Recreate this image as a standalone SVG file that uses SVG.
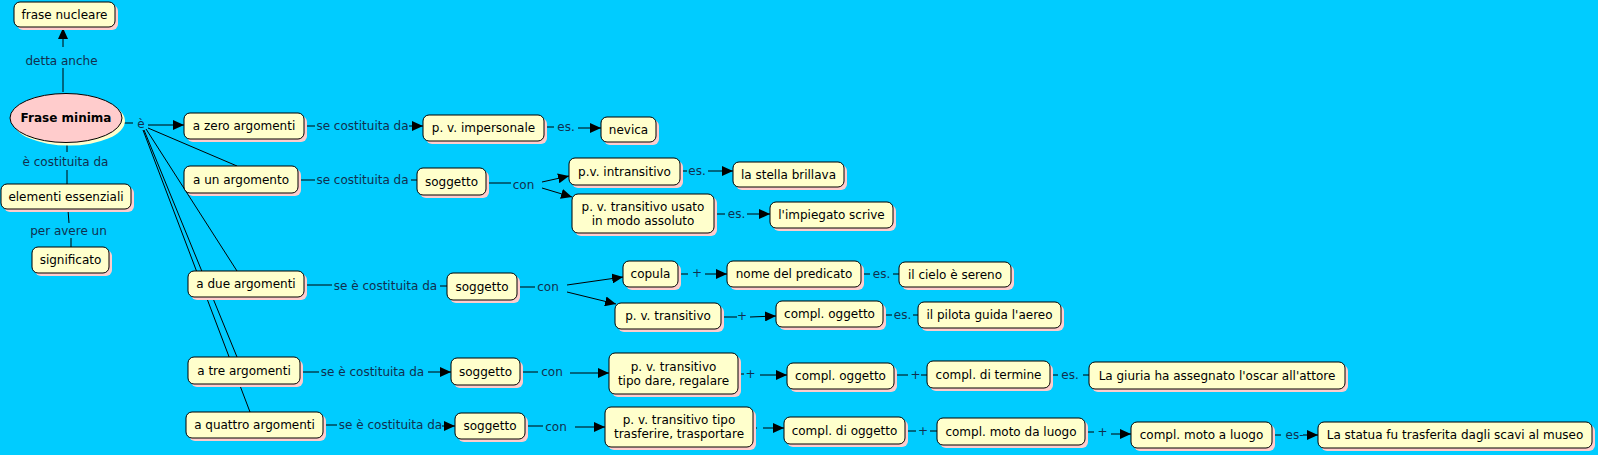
<svg xmlns="http://www.w3.org/2000/svg" width="1598" height="455" viewBox="0 0 1598 455">
<defs>
<marker id="ah" markerUnits="userSpaceOnUse" markerWidth="11" markerHeight="10" refX="11" refY="5" orient="auto"><path d="M0,0 L11,5 L0,10 z" fill="#000"/></marker>
</defs>
<style>
.sh{fill:#ffcccc}
.bx{fill:#ffffcc;stroke:#000;stroke-width:1}
text{font-family:"DejaVu Sans",Verdana,sans-serif;font-size:12px;text-anchor:middle}
.nt{fill:#000}
.lt{fill:#10304f}
.c line{stroke:#000;stroke-width:1;fill:none}
.a{marker-end:url(#ah)}
</style>
<rect width="1598" height="455" fill="#00ccff"/>

<g id="connectors" class="c">
<line x1="63" y1="92" x2="63" y2="68"/>
<line class="a" x1="63" y1="47" x2="63" y2="28"/>
<line x1="67" y1="143" x2="67" y2="152"/>
<line x1="67" y1="170" x2="67" y2="184"/>
<line x1="68" y1="210" x2="69" y2="223"/>
<line x1="71" y1="238" x2="71" y2="247"/>
<line x1="122" y1="123" x2="133" y2="123"/>
<line class="a" x1="148" y1="125" x2="184" y2="125"/>
<line x1="148" y1="128" x2="237" y2="166"/>
<line x1="146" y1="129" x2="237" y2="271"/>
<line x1="144" y1="130" x2="237" y2="357"/>
<line x1="143" y1="130" x2="250" y2="412"/>
<line x1="304" y1="126" x2="315" y2="126"/>
<line class="a" x1="409" y1="126" x2="423" y2="126"/>
<line x1="544" y1="127" x2="554" y2="127"/>
<line class="a" x1="578" y1="128" x2="601" y2="128"/>
<line x1="298" y1="180" x2="315" y2="180"/>
<line x1="411" y1="180" x2="417" y2="180"/>
<line x1="486" y1="183" x2="511" y2="183"/>
<line class="a" x1="542" y1="182" x2="569" y2="176"/>
<line class="a" x1="542" y1="188" x2="572" y2="197"/>
<line x1="680" y1="171" x2="687" y2="171"/>
<line class="a" x1="708" y1="171" x2="733" y2="171"/>
<line x1="714" y1="214" x2="725" y2="214"/>
<line class="a" x1="747" y1="214" x2="770" y2="214"/>
<line x1="304" y1="285" x2="332" y2="285"/>
<line x1="440" y1="286" x2="447" y2="286"/>
<line x1="517" y1="287" x2="535" y2="287"/>
<line class="a" x1="567" y1="285" x2="623" y2="277"/>
<line class="a" x1="567" y1="292" x2="616" y2="304"/>
<line x1="678" y1="274" x2="688" y2="274"/>
<line class="a" x1="705" y1="274" x2="727" y2="274"/>
<line x1="861" y1="274" x2="870" y2="274"/>
<line x1="893" y1="274" x2="899" y2="274"/>
<line x1="721" y1="317" x2="737" y2="317"/>
<line class="a" x1="750" y1="317" x2="776" y2="316"/>
<line x1="883" y1="315" x2="892" y2="315"/>
<line x1="913" y1="315" x2="918" y2="315"/>
<line x1="300" y1="372" x2="319" y2="372"/>
<line class="a" x1="428" y1="372" x2="451" y2="372"/>
<line x1="520" y1="372" x2="538" y2="372"/>
<line class="a" x1="570" y1="373" x2="609" y2="373"/>
<line x1="738" y1="374" x2="744" y2="374"/>
<line class="a" x1="760" y1="375" x2="787" y2="375"/>
<line x1="894" y1="375" x2="908" y2="375"/>
<line x1="921" y1="375" x2="927" y2="375"/>
<line x1="1050" y1="375" x2="1058" y2="375"/>
<line x1="1083" y1="375" x2="1089" y2="375"/>
<line x1="323" y1="425" x2="337" y2="425"/>
<line class="a" x1="442" y1="426" x2="455" y2="426"/>
<line x1="525" y1="426" x2="543" y2="426"/>
<line class="a" x1="575" y1="427" x2="605" y2="427"/>
<line x1="753" y1="428" x2="757" y2="428"/>
<line class="a" x1="763" y1="428" x2="784" y2="428"/>
<line x1="905" y1="431" x2="916" y2="431"/>
<line x1="930" y1="431" x2="937" y2="431"/>
<line x1="1085" y1="432" x2="1094" y2="432"/>
<line class="a" x1="1111" y1="434" x2="1131" y2="434"/>
<line x1="1272" y1="435" x2="1281" y2="435"/>
<line class="a" x1="1303" y1="435" x2="1318" y2="435"/>
</g>

<g id="labels" class="lt">
<text x="61.5" y="65">detta anche</text>
<text x="65.5" y="166">è costituita da</text>
<text x="68.5" y="235">per avere un</text>
<text x="141" y="128">è</text>
<text x="362.5" y="130">se costituita da</text>
<text x="566" y="131">es.</text>
<text x="362.5" y="184">se costituita da</text>
<text x="523.5" y="189">con</text>
<text x="697" y="175">es.</text>
<text x="736.5" y="218">es.</text>
<text x="385.5" y="290">se è costituita da</text>
<text x="548" y="291">con</text>
<text x="697" y="277">+</text>
<text x="881.5" y="278">es.</text>
<text x="742" y="320">+</text>
<text x="902.5" y="319">es.</text>
<text x="372.5" y="376">se è costituita da</text>
<text x="552" y="376">con</text>
<text x="750.5" y="378">+</text>
<text x="915.5" y="379">+</text>
<text x="1070" y="379">es.</text>
<text x="390.5" y="429">se è costituita da</text>
<text x="556" y="431">con</text>
<text x="923" y="435">+</text>
<text x="1102.5" y="436">+</text>
<text x="1294.5" y="439">es-</text>
</g>

<g id="n-frase-nucleare"><rect class="sh" x="17" y="5" width="101" height="25" rx="6"/><rect class="bx" x="14" y="2" width="101" height="25" rx="6"/><text class="nt" x="64.5" y="18.5">frase nucleare</text></g>
<g id="n-frase-minima"><ellipse cx="69" cy="121" rx="56" ry="24.5" fill="#ffffcc"/><ellipse cx="66" cy="118" rx="56" ry="24.5" fill="#ffcccc" stroke="#000"/><text class="nt" x="66" y="122" font-weight="bold">Frase minima</text></g>
<g id="n-elementi"><rect class="sh" x="4" y="187" width="130" height="25" rx="6"/><rect class="bx" x="1" y="184" width="130" height="25" rx="6"/><text class="nt" x="66" y="200.5">elementi essenziali</text></g>
<g id="n-significato"><rect class="sh" x="35" y="250" width="77" height="26" rx="6"/><rect class="bx" x="32" y="247" width="77" height="26" rx="6"/><text class="nt" x="70.5" y="264">significato</text></g>

<g id="n-zero"><rect class="sh" x="187" y="116" width="120" height="26" rx="6"/><rect class="bx" x="184" y="113" width="120" height="26" rx="6"/><text class="nt" x="244" y="130">a zero argomenti</text></g>
<g id="n-uno"><rect class="sh" x="187" y="169" width="114" height="27" rx="6"/><rect class="bx" x="184" y="166" width="114" height="27" rx="6"/><text class="nt" x="241" y="183.5">a un argomento</text></g>
<g id="n-due"><rect class="sh" x="191" y="274" width="116" height="26" rx="6"/><rect class="bx" x="188" y="271" width="116" height="26" rx="6"/><text class="nt" x="246" y="288">a due argomenti</text></g>
<g id="n-tre"><rect class="sh" x="191" y="360" width="112" height="27" rx="6"/><rect class="bx" x="188" y="357" width="112" height="27" rx="6"/><text class="nt" x="244" y="374.5">a tre argomenti</text></g>
<g id="n-quattro"><rect class="sh" x="189" y="415" width="137" height="26" rx="6"/><rect class="bx" x="186" y="412" width="137" height="26" rx="6"/><text class="nt" x="254.5" y="429">a quattro argomenti</text></g>

<g id="n-impersonale"><rect class="sh" x="426" y="118" width="121" height="26" rx="6"/><rect class="bx" x="423" y="115" width="121" height="26" rx="6"/><text class="nt" x="483.5" y="132">p. v. impersonale</text></g>
<g id="n-nevica"><rect class="sh" x="604" y="120" width="55" height="25" rx="6"/><rect class="bx" x="601" y="117" width="55" height="25" rx="6"/><text class="nt" x="628.5" y="133.5">nevica</text></g>

<g id="n-soggetto1"><rect class="sh" x="420" y="171" width="69" height="27" rx="6"/><rect class="bx" x="417" y="168" width="69" height="27" rx="6"/><text class="nt" x="451.5" y="185.5">soggetto</text></g>
<g id="n-intransitivo"><rect class="sh" x="572" y="161" width="111" height="27" rx="6"/><rect class="bx" x="569" y="158" width="111" height="27" rx="6"/><text class="nt" x="624.5" y="175.5">p.v. intransitivo</text></g>
<g id="n-stella"><rect class="sh" x="736" y="165" width="111" height="25" rx="6"/><rect class="bx" x="733" y="162" width="111" height="25" rx="6"/><text class="nt" x="788.5" y="178.5">la stella brillava</text></g>
<g id="n-assoluto"><rect class="sh" x="575" y="197" width="142" height="39" rx="6"/><rect class="bx" x="572" y="194" width="142" height="39" rx="6"/><text class="nt" x="643" y="210.5">p. v. transitivo usato</text><text class="nt" x="643" y="224.5">in modo assoluto</text></g>
<g id="n-impiegato"><rect class="sh" x="773" y="205" width="123" height="26" rx="6"/><rect class="bx" x="770" y="202" width="123" height="26" rx="6"/><text class="nt" x="831.5" y="219">l'impiegato scrive</text></g>

<g id="n-soggetto2"><rect class="sh" x="450" y="276" width="70" height="27" rx="6"/><rect class="bx" x="447" y="273" width="70" height="27" rx="6"/><text class="nt" x="482" y="290.5">soggetto</text></g>
<g id="n-copula"><rect class="sh" x="626" y="264" width="55" height="26" rx="6"/><rect class="bx" x="623" y="261" width="55" height="26" rx="6"/><text class="nt" x="650.5" y="278">copula</text></g>
<g id="n-nome"><rect class="sh" x="730" y="264" width="134" height="26" rx="6"/><rect class="bx" x="727" y="261" width="134" height="26" rx="6"/><text class="nt" x="794" y="278">nome del predicato</text></g>
<g id="n-cielo"><rect class="sh" x="902" y="265" width="112" height="25" rx="6"/><rect class="bx" x="899" y="262" width="112" height="25" rx="6"/><text class="nt" x="955" y="278.5">il cielo è sereno</text></g>
<g id="n-transitivo"><rect class="sh" x="618" y="306" width="106" height="26" rx="6"/><rect class="bx" x="615" y="303" width="106" height="26" rx="6"/><text class="nt" x="668" y="320">p. v. transitivo</text></g>
<g id="n-oggetto2"><rect class="sh" x="779" y="304" width="107" height="26" rx="6"/><rect class="bx" x="776" y="301" width="107" height="26" rx="6"/><text class="nt" x="829.5" y="318">compl. oggetto</text></g>
<g id="n-pilota"><rect class="sh" x="921" y="305" width="143" height="26" rx="6"/><rect class="bx" x="918" y="302" width="143" height="26" rx="6"/><text class="nt" x="989.5" y="319">il pilota guida l'aereo</text></g>

<g id="n-soggetto3"><rect class="sh" x="454" y="361" width="69" height="27" rx="6"/><rect class="bx" x="451" y="358" width="69" height="27" rx="6"/><text class="nt" x="485.5" y="375.5">soggetto</text></g>
<g id="n-dare"><rect class="sh" x="612" y="356" width="129" height="41" rx="6"/><rect class="bx" x="609" y="353" width="129" height="41" rx="6"/><text class="nt" x="673.5" y="370.5">p. v. transitivo</text><text class="nt" x="673.5" y="384.5">tipo dare, regalare</text></g>
<g id="n-oggetto3"><rect class="sh" x="790" y="366" width="107" height="26" rx="6"/><rect class="bx" x="787" y="363" width="107" height="26" rx="6"/><text class="nt" x="840.5" y="380">compl. oggetto</text></g>
<g id="n-termine"><rect class="sh" x="930" y="364" width="123" height="27" rx="6"/><rect class="bx" x="927" y="361" width="123" height="27" rx="6"/><text class="nt" x="988.5" y="378.5">compl. di termine</text></g>
<g id="n-giuria"><rect class="sh" x="1092" y="365" width="256" height="27" rx="6"/><rect class="bx" x="1089" y="362" width="256" height="27" rx="6"/><text class="nt" x="1217" y="379.5">La giuria ha assegnato l'oscar all'attore</text></g>

<g id="n-soggetto4"><rect class="sh" x="458" y="416" width="70" height="26" rx="6"/><rect class="bx" x="455" y="413" width="70" height="26" rx="6"/><text class="nt" x="490" y="430">soggetto</text></g>
<g id="n-trasferire"><rect class="sh" x="608" y="410" width="148" height="40" rx="6"/><rect class="bx" x="605" y="407" width="148" height="40" rx="6"/><text class="nt" x="679" y="424">p. v. transitivo tipo</text><text class="nt" x="679" y="438">trasferire, trasportare</text></g>
<g id="n-dioggetto"><rect class="sh" x="787" y="420" width="121" height="27" rx="6"/><rect class="bx" x="784" y="417" width="121" height="27" rx="6"/><text class="nt" x="844.5" y="434.5">compl. di oggetto</text></g>
<g id="n-motoda"><rect class="sh" x="940" y="421" width="148" height="27" rx="6"/><rect class="bx" x="937" y="418" width="148" height="27" rx="6"/><text class="nt" x="1011" y="435.5">compl. moto da luogo</text></g>
<g id="n-motoa"><rect class="sh" x="1134" y="425" width="141" height="26" rx="6"/><rect class="bx" x="1131" y="422" width="141" height="26" rx="6"/><text class="nt" x="1201.5" y="439">compl. moto a luogo</text></g>
<g id="n-statua"><rect class="sh" x="1321" y="425" width="274" height="26" rx="6"/><rect class="bx" x="1318" y="422" width="274" height="26" rx="6"/><text class="nt" x="1455" y="439">La statua fu trasferita dagli scavi al museo</text></g>
</svg>
